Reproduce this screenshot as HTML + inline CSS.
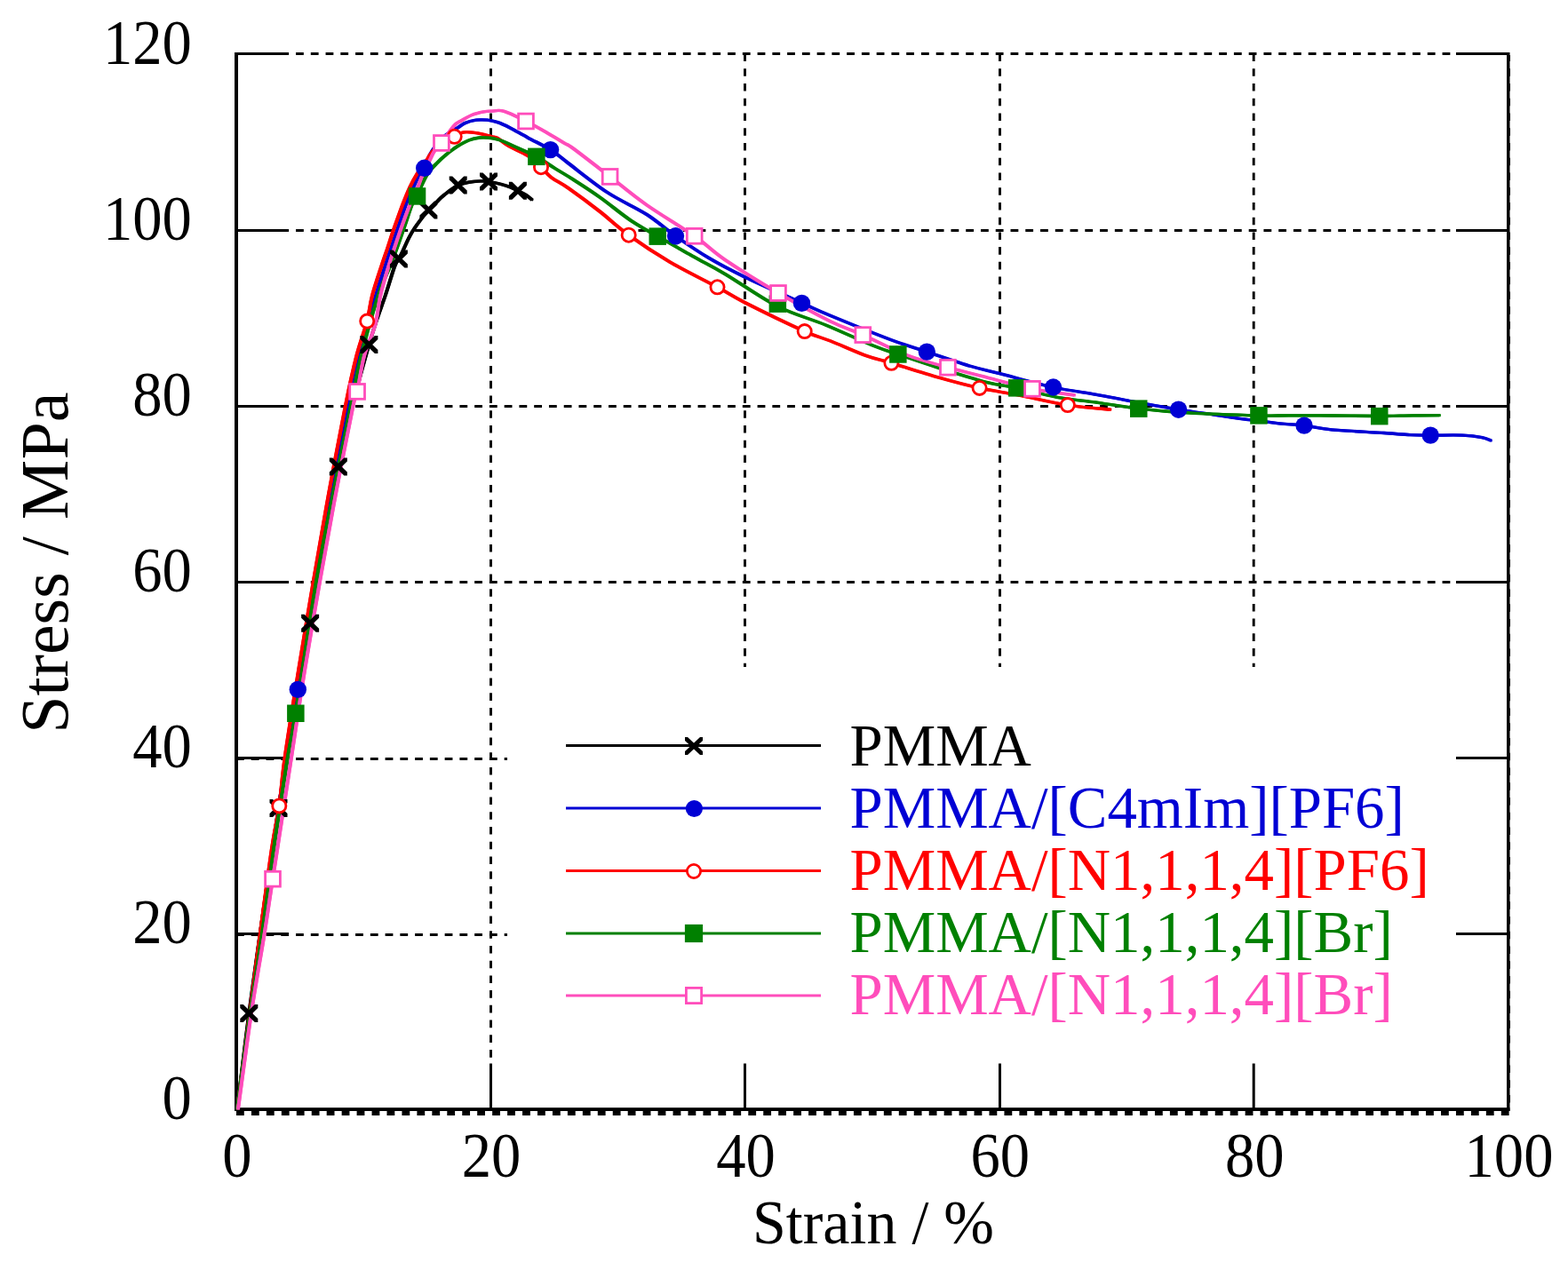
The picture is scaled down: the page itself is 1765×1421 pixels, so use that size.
<!DOCTYPE html><html><head><meta charset="utf-8"><title>Stress-strain curves</title><style>html,body{margin:0;padding:0;background:#fff;}svg{display:block;}text{font-family:"Liberation Serif","Times New Roman",serif;}</style></head><body>
<svg width="1765" height="1421" viewBox="0 0 1765 1421">
<rect width="1765" height="1421" fill="#fff"/>
<line x1="266.0" y1="60.5" x2="1632.5" y2="60.5" stroke="#000" stroke-width="3" stroke-dasharray="8.8 7.96" fill="none"/>
<line x1="266.0" y1="259.5" x2="1632.5" y2="259.5" stroke="#000" stroke-width="3" stroke-dasharray="8.8 7.96" fill="none"/>
<line x1="266.0" y1="457.5" x2="1632.5" y2="457.5" stroke="#000" stroke-width="3" stroke-dasharray="8.8 7.96" fill="none"/>
<line x1="266.0" y1="655.5" x2="1632.5" y2="655.5" stroke="#000" stroke-width="3" stroke-dasharray="8.8 7.96" fill="none"/>
<line x1="266.0" y1="854.5" x2="571.0" y2="854.5" stroke="#000" stroke-width="3" stroke-dasharray="8.8 7.96" fill="none"/>
<line x1="266.0" y1="1052.5" x2="571.0" y2="1052.5" stroke="#000" stroke-width="3" stroke-dasharray="8.8 7.96" fill="none"/>
<line x1="552.5" y1="60.5" x2="552.5" y2="1192.0" stroke="#000" stroke-width="2.9" stroke-dasharray="8.6 8.14" fill="none"/>
<line x1="838.5" y1="60.5" x2="838.5" y2="751.0" stroke="#000" stroke-width="2.9" stroke-dasharray="8.6 8.14" fill="none"/>
<line x1="1125.5" y1="60.5" x2="1125.5" y2="751.0" stroke="#000" stroke-width="2.9" stroke-dasharray="8.6 8.14" fill="none"/>
<line x1="1411.2" y1="60.5" x2="1411.2" y2="751.0" stroke="#000" stroke-width="2.9" stroke-dasharray="8.6 8.14" fill="none"/>
<line x1="264" y1="60.5" x2="325" y2="60.5" stroke="#000" stroke-width="3"/>
<line x1="1639" y1="60.5" x2="1698" y2="60.5" stroke="#000" stroke-width="3"/>
<line x1="264" y1="259.5" x2="325" y2="259.5" stroke="#000" stroke-width="3"/>
<line x1="1639" y1="259.5" x2="1698" y2="259.5" stroke="#000" stroke-width="3"/>
<line x1="264" y1="457.5" x2="325" y2="457.5" stroke="#000" stroke-width="3"/>
<line x1="1639" y1="457.5" x2="1698" y2="457.5" stroke="#000" stroke-width="3"/>
<line x1="264" y1="655.5" x2="325" y2="655.5" stroke="#000" stroke-width="3"/>
<line x1="1639" y1="655.5" x2="1698" y2="655.5" stroke="#000" stroke-width="3"/>
<line x1="264" y1="853.5" x2="325" y2="853.5" stroke="#000" stroke-width="3"/>
<line x1="1639" y1="853.5" x2="1698" y2="853.5" stroke="#000" stroke-width="3"/>
<line x1="264" y1="1051.5" x2="325" y2="1051.5" stroke="#000" stroke-width="3"/>
<line x1="1639" y1="1051.5" x2="1698" y2="1051.5" stroke="#000" stroke-width="3"/>
<line x1="552.5" y1="1197.5" x2="552.5" y2="1248" stroke="#000" stroke-width="3"/>
<line x1="838.5" y1="1197.5" x2="838.5" y2="1248" stroke="#000" stroke-width="3"/>
<line x1="1125.5" y1="1197.5" x2="1125.5" y2="1248" stroke="#000" stroke-width="3"/>
<line x1="1411.2" y1="1197.5" x2="1411.2" y2="1248" stroke="#000" stroke-width="3"/>
<rect x="264" y="59" width="4" height="1192" fill="#000"/>
<rect x="1696" y="59" width="3.5" height="1192" fill="#000"/>
<rect x="264" y="1247.2" width="1435.5" height="3.8" fill="#000"/>
<line x1="266" y1="1253.4" x2="1699" y2="1253.4" stroke="#000" stroke-width="5.2" stroke-dasharray="8.8 8.15"/>
<line x1="1699.2" y1="62" x2="1699.2" y2="1250" stroke="#000" stroke-width="1.6" stroke-dasharray="8.4 8.35" stroke-dashoffset="1.5"/>
<defs>
<path id="c0" d="M267.0,1249.0 C269.2,1231.0 275.4,1178.3 280.3,1141.0 C285.2,1103.7 291.0,1063.5 296.5,1025.0 C302.0,986.5 307.8,946.7 313.5,910.0 C319.2,873.3 325.1,839.7 331.0,805.0 C336.9,770.3 343.5,734.3 349.1,701.8 C354.7,669.3 359.2,639.4 364.5,610.0 C369.8,580.6 375.2,551.7 380.8,525.4 C386.4,499.1 392.2,474.9 398.0,452.0 C403.8,429.1 411.0,403.3 415.4,388.0 C419.8,372.7 421.1,369.3 424.1,360.2 C427.1,351.1 430.1,343.5 433.5,333.5 C436.9,323.5 441.6,307.0 444.2,300.0 C446.8,293.0 447.5,294.0 448.9,291.4 C450.3,288.8 450.5,288.6 452.5,284.5 C454.5,280.4 458.2,271.7 460.7,267.0 C463.1,262.3 464.6,259.9 467.2,256.1 C469.8,252.3 473.5,247.4 476.0,244.1 C478.5,240.8 479.9,239.2 482.4,236.5 C484.9,233.8 488.3,230.6 491.2,227.8 C494.1,225.0 495.9,222.7 500.0,219.5 C504.1,216.3 510.3,211.1 515.7,208.6 C521.2,206.1 527.0,205.2 532.7,204.5 C538.4,203.8 543.8,203.6 550.0,204.4 C556.2,205.2 564.2,207.5 569.7,209.2 C575.2,210.9 579.2,213.0 582.9,214.7 C586.6,216.4 589.3,217.7 592.0,219.5 C594.7,221.3 598.0,224.3 599.2,225.3"/>
<path id="c1" d="M267.0,1249.0 C269.3,1231.7 276.5,1177.9 281.0,1145.0 C285.5,1112.1 289.5,1084.2 294.0,1051.7 C298.5,1019.2 303.3,983.0 308.0,950.0 C312.7,917.0 317.4,882.6 322.0,853.7 C326.6,824.8 329.8,809.5 335.3,776.4 C340.8,743.3 348.7,691.7 355.0,655.0 C361.3,618.3 366.8,588.9 373.0,556.0 C379.2,523.1 386.7,483.5 392.0,457.6 C397.3,431.7 399.6,421.1 404.7,400.4 C409.8,379.7 417.9,350.4 422.8,333.5 C427.7,316.6 429.8,311.2 433.8,298.8 C437.8,286.4 442.9,271.5 447.0,259.4 C451.1,247.3 455.5,234.0 458.5,226.0 C461.5,218.0 463.0,215.8 465.0,211.5 C467.0,207.2 468.4,203.7 470.5,200.0 C472.6,196.3 475.5,193.5 477.7,189.3 C479.9,185.1 480.7,180.1 483.6,174.9 C486.5,169.7 491.4,162.2 495.0,158.0 C498.6,153.8 501.7,152.3 505.0,150.0 C508.3,147.7 511.8,146.0 514.9,144.1 C517.9,142.2 519.8,140.1 523.3,138.6 C526.8,137.1 531.8,135.8 536.0,135.2 C540.2,134.6 544.7,134.8 548.7,135.2 C552.7,135.6 555.8,136.3 560.0,137.7 C564.2,139.1 568.0,140.8 573.7,143.7 C579.4,146.6 586.4,150.8 594.0,154.9 C601.6,159.1 611.9,163.8 619.6,168.6 C627.3,173.4 629.3,175.9 640.0,184.0 C650.7,192.1 669.3,207.3 684.0,216.9 C698.7,226.5 715.2,233.3 728.0,241.5 C740.8,249.7 748.8,257.6 760.5,265.8 C772.2,274.0 785.4,283.1 798.4,290.8 C811.4,298.5 821.0,303.5 838.3,311.9 C855.6,320.2 886.1,333.6 902.2,340.9 C918.3,348.2 918.3,348.6 935.0,355.5 C951.7,362.4 984.5,375.7 1002.5,382.5 C1020.5,389.3 1028.2,391.1 1043.3,396.1 C1058.4,401.1 1079.5,408.4 1093.2,412.5 C1106.9,416.6 1109.9,416.7 1125.3,420.6 C1140.7,424.5 1167.4,432.1 1185.6,436.0 C1203.8,439.9 1219.7,441.7 1234.2,444.3 C1248.7,446.9 1257.1,448.9 1272.5,451.7 C1287.9,454.5 1310.9,458.6 1326.6,461.2 C1342.3,463.8 1354.0,465.2 1366.8,467.1 C1379.6,469.0 1391.4,470.7 1403.6,472.3 C1415.8,473.9 1429.3,475.7 1440.0,476.8 C1450.7,477.9 1458.2,477.9 1468.0,479.1 C1477.8,480.3 1483.9,482.4 1498.9,483.8 C1513.9,485.2 1543.2,486.5 1557.9,487.5 C1572.6,488.5 1578.6,489.3 1587.3,489.7 C1596.0,490.1 1600.4,490.0 1610.2,490.1 C1620.0,490.2 1636.5,489.7 1646.2,490.1 C1655.9,490.5 1662.9,491.6 1668.3,492.6 C1673.7,493.6 1677.0,495.7 1678.7,496.3"/>
<path id="c2" d="M267.0,1249.0 C269.2,1232.5 275.7,1182.9 280.0,1150.0 C284.3,1117.1 288.5,1084.2 292.8,1051.7 C297.1,1019.2 302.4,979.0 306.0,955.0 C309.6,931.0 311.9,924.3 314.3,907.4 C316.7,890.5 316.9,879.1 320.5,853.7 C324.1,828.3 330.6,788.1 336.0,755.0 C341.4,721.9 347.0,688.2 352.7,655.0 C358.4,621.8 364.0,588.9 370.0,556.0 C376.0,523.1 383.5,483.5 388.7,457.6 C393.9,431.7 397.3,416.4 401.4,400.4 C405.5,384.4 410.3,372.8 413.2,361.6 C416.1,350.5 416.1,344.0 418.8,333.5 C421.5,323.0 426.7,307.7 429.6,298.8 C432.5,289.9 433.8,286.6 436.0,280.0 C438.2,273.4 439.9,267.6 442.8,259.4 C445.7,251.2 450.0,238.9 453.1,230.7 C456.2,222.5 458.8,216.2 461.5,210.4 C464.2,204.6 466.0,201.2 469.3,196.0 C472.6,190.8 478.3,183.2 481.1,179.1 C483.9,175.0 483.1,175.2 486.2,171.5 C489.3,167.8 495.8,159.9 500.0,157.0 C504.2,154.1 508.2,155.1 511.7,153.8 C515.2,152.5 517.4,149.9 520.8,149.1 C524.1,148.3 527.8,148.7 531.8,149.1 C535.8,149.5 540.9,150.5 544.5,151.3 C548.1,152.1 550.7,153.2 553.3,153.9 C555.9,154.6 556.6,153.6 560.0,155.5 C563.4,157.4 568.0,161.8 573.7,165.1 C579.4,168.4 588.1,171.5 594.0,175.3 C599.9,179.2 604.6,184.1 609.0,188.2 C613.4,192.3 615.4,195.8 620.6,199.8 C625.8,203.8 630.9,205.6 640.0,212.0 C649.1,218.4 663.7,229.2 675.0,238.0 C686.3,246.8 694.5,255.2 707.7,264.7 C720.9,274.2 737.8,285.4 754.4,295.2 C771.0,305.0 793.4,315.7 807.5,323.3 C821.6,330.9 822.4,332.6 838.8,340.9 C855.2,349.2 889.7,365.9 905.7,373.1 C921.7,380.3 923.4,379.4 935.0,384.0 C946.6,388.6 963.9,396.6 975.3,400.7 C986.7,404.8 989.8,404.7 1003.4,408.8 C1017.0,412.9 1040.4,420.4 1056.9,425.1 C1073.4,429.8 1087.5,433.6 1102.6,436.9 C1117.7,440.2 1131.0,441.9 1147.5,445.1 C1164.0,448.3 1184.6,453.4 1201.8,456.1 C1219.0,458.8 1242.3,460.4 1250.4,461.2"/>
<path id="c3" d="M267.0,1249.0 C269.3,1231.7 276.3,1177.9 281.0,1145.0 C285.7,1112.1 290.3,1084.2 295.0,1051.7 C299.7,1019.2 304.2,983.0 309.0,950.0 C313.8,917.0 319.7,878.2 323.7,853.7 C327.7,829.2 327.4,836.3 332.8,803.2 C338.2,770.1 349.0,696.2 356.0,655.0 C363.0,613.8 368.6,588.9 375.0,556.0 C381.4,523.1 389.4,483.5 394.7,457.6 C400.0,431.7 401.6,421.1 406.7,400.4 C411.8,379.7 419.8,351.1 425.5,333.5 C431.2,315.9 436.3,307.4 441.0,295.0 C445.7,282.6 450.1,270.1 453.8,259.4 C457.6,248.7 460.9,237.4 463.5,231.0 C466.1,224.6 467.8,224.3 469.5,221.0 C471.2,217.7 471.6,215.4 473.5,211.2 C475.4,207.0 478.1,200.5 481.1,196.0 C484.1,191.5 487.8,187.8 491.3,184.2 C494.8,180.5 498.3,177.3 502.2,174.1 C506.1,170.9 510.7,167.5 514.9,164.8 C519.1,162.1 523.4,159.6 527.6,158.0 C531.8,156.4 536.0,155.4 540.2,155.0 C544.4,154.6 549.0,155.0 552.9,155.5 C556.8,156.0 558.3,156.1 563.5,158.0 C568.7,159.9 577.2,164.0 583.9,167.1 C590.6,170.2 597.1,172.6 603.9,176.3 C610.7,180.1 617.9,185.3 624.7,189.6 C631.6,193.9 636.6,196.6 645.0,202.0 C653.4,207.4 664.3,214.3 675.2,222.1 C686.1,229.8 699.5,241.2 710.4,248.5 C721.2,255.8 728.6,259.4 740.3,266.1 C752.0,272.9 768.2,281.9 780.8,289.0 C793.4,296.1 800.2,299.1 816.0,308.4 C831.8,317.7 856.4,335.4 875.4,345.0 C894.4,354.6 911.8,358.7 930.0,366.2 C948.2,373.7 970.9,384.4 984.4,389.8 C997.9,395.2 998.6,394.8 1010.7,398.9 C1022.8,403.0 1040.1,409.0 1056.9,414.3 C1073.7,419.6 1096.7,426.8 1111.3,430.6 C1125.9,434.4 1131.7,434.1 1144.8,436.9 C1157.9,439.7 1175.1,444.6 1190.0,447.3 C1204.9,450.0 1218.9,451.0 1234.2,453.1 C1249.5,455.2 1264.6,458.1 1281.8,460.1 C1299.0,462.1 1314.8,463.6 1337.3,464.9 C1359.8,466.2 1398.1,467.4 1416.9,467.9 C1435.7,468.4 1436.2,467.9 1450.0,467.9 C1463.8,467.9 1482.9,467.9 1500.0,468.0 C1517.1,468.1 1537.7,468.5 1552.7,468.5 C1567.7,468.5 1578.6,467.9 1590.0,467.8 C1601.4,467.7 1615.8,467.6 1620.9,467.6"/>
<path id="c4" d="M268.0,1249.0 C270.5,1230.8 278.1,1172.9 283.0,1140.0 C287.9,1107.1 293.6,1076.8 297.6,1051.7 C301.6,1026.7 301.9,1022.7 307.0,989.7 C312.1,956.7 321.9,892.8 327.9,853.7 C333.9,814.6 337.6,788.1 343.0,755.0 C348.4,721.9 354.2,688.2 360.0,655.0 C365.8,621.8 371.8,588.9 378.0,556.0 C384.2,523.1 393.4,476.8 397.4,457.6 C401.4,438.4 400.0,450.4 402.1,440.9 C404.2,431.4 406.7,412.9 410.1,400.4 C413.5,387.9 419.3,377.0 422.3,365.9 C425.3,354.8 425.5,344.7 428.1,333.5 C430.7,322.3 433.9,311.2 437.7,298.8 C441.5,286.4 446.8,270.6 450.7,259.4 C454.6,248.1 458.4,237.9 461.0,231.3 C463.6,224.7 464.3,223.7 466.0,220.0 C467.7,216.3 469.3,213.0 471.0,209.0 C472.7,205.0 473.8,200.8 476.0,196.0 C478.2,191.2 481.9,184.2 484.0,180.0 C486.1,175.8 486.6,173.9 488.7,170.7 C490.8,167.5 493.2,165.8 496.9,161.0 C500.6,156.2 507.0,146.2 510.7,142.0 C514.4,137.8 515.6,138.1 519.1,136.0 C522.6,133.9 527.6,131.0 531.8,129.3 C536.0,127.6 541.0,126.6 544.5,125.9 C548.0,125.2 549.0,125.2 552.9,125.1 C556.8,125.0 561.1,123.4 567.6,125.3 C574.1,127.2 584.2,132.6 592.0,136.5 C599.8,140.4 607.4,144.7 614.5,148.8 C621.6,152.9 629.8,158.0 634.9,161.0 C640.0,164.0 636.4,160.7 645.0,167.0 C653.6,173.3 672.8,188.2 686.6,198.9 C700.4,209.6 712.1,219.8 728.0,230.9 C743.9,242.1 767.0,255.5 781.7,265.8 C796.4,276.1 800.4,281.9 816.0,292.5 C831.6,303.1 855.6,317.9 875.4,329.5 C895.2,341.1 919.0,354.1 935.0,362.0 C951.0,369.9 957.0,370.8 971.3,377.1 C985.6,383.4 1004.7,393.7 1020.6,399.8 C1036.5,405.9 1051.8,409.5 1066.9,413.7 C1082.0,417.9 1095.5,421.1 1111.3,425.1 C1127.1,429.1 1145.6,434.5 1162.0,437.8 C1178.4,441.1 1201.9,443.8 1209.9,445.0"/>
</defs>
<g stroke="#000000" stroke-width="2.3" fill="none" stroke-linejoin="round" stroke-linecap="butt">
<use href="#c0" x="-0.80" y="-0.50"/>
<use href="#c0" x="0.80" y="-0.50"/>
<use href="#c0" x="-0.80" y="0.50"/>
<use href="#c0" x="0.80" y="0.50"/>
</g>
<g stroke="#0000D4" stroke-width="2.3" fill="none" stroke-linejoin="round" stroke-linecap="butt">
<use href="#c1" x="-0.80" y="-0.50"/>
<use href="#c1" x="0.80" y="-0.50"/>
<use href="#c1" x="-0.80" y="0.50"/>
<use href="#c1" x="0.80" y="0.50"/>
</g>
<g stroke="#FF0000" stroke-width="2.3" fill="none" stroke-linejoin="round" stroke-linecap="butt">
<use href="#c2" x="-0.80" y="-0.50"/>
<use href="#c2" x="0.80" y="-0.50"/>
<use href="#c2" x="-0.80" y="0.50"/>
<use href="#c2" x="0.80" y="0.50"/>
</g>
<g stroke="#008000" stroke-width="2.3" fill="none" stroke-linejoin="round" stroke-linecap="butt">
<use href="#c3" x="-0.80" y="-0.50"/>
<use href="#c3" x="0.80" y="-0.50"/>
<use href="#c3" x="-0.80" y="0.50"/>
<use href="#c3" x="0.80" y="0.50"/>
</g>
<g stroke="#FF4DBB" stroke-width="2.3" fill="none" stroke-linejoin="round" stroke-linecap="butt">
<use href="#c4" x="-0.80" y="-0.50"/>
<use href="#c4" x="0.80" y="-0.50"/>
<use href="#c4" x="-0.80" y="0.50"/>
<use href="#c4" x="0.80" y="0.50"/>
</g>
<polygon points="270.3,1131.0 273.8,1131.0 290.3,1147.0 290.3,1151.0 286.8,1151.0 270.3,1135.0" fill="#000000"/><polygon points="286.8,1131.0 290.3,1131.0 290.3,1135.0 273.8,1151.0 270.3,1151.0 270.3,1147.0" fill="#000000"/>
<polygon points="303.5,900.0 307.0,900.0 323.5,916.0 323.5,920.0 320.0,920.0 303.5,904.0" fill="#000000"/><polygon points="320.0,900.0 323.5,900.0 323.5,904.0 307.0,920.0 303.5,920.0 303.5,916.0" fill="#000000"/>
<polygon points="339.1,691.8 342.6,691.8 359.1,707.8 359.1,711.8 355.6,711.8 339.1,695.8" fill="#000000"/><polygon points="355.6,691.8 359.1,691.8 359.1,695.8 342.6,711.8 339.1,711.8 339.1,707.8" fill="#000000"/>
<polygon points="370.8,515.4 374.3,515.4 390.8,531.4 390.8,535.4 387.3,535.4 370.8,519.4" fill="#000000"/><polygon points="387.3,515.4 390.8,515.4 390.8,519.4 374.3,535.4 370.8,535.4 370.8,531.4" fill="#000000"/>
<polygon points="405.4,378.0 408.9,378.0 425.4,394.0 425.4,398.0 421.9,398.0 405.4,382.0" fill="#000000"/><polygon points="421.9,378.0 425.4,378.0 425.4,382.0 408.9,398.0 405.4,398.0 405.4,394.0" fill="#000000"/>
<polygon points="438.9,281.4 442.4,281.4 458.9,297.4 458.9,301.4 455.4,301.4 438.9,285.4" fill="#000000"/><polygon points="455.4,281.4 458.9,281.4 458.9,285.4 442.4,301.4 438.9,301.4 438.9,297.4" fill="#000000"/>
<polygon points="472.4,226.5 475.9,226.5 492.4,242.5 492.4,246.5 488.9,246.5 472.4,230.5" fill="#000000"/><polygon points="488.9,226.5 492.4,226.5 492.4,230.5 475.9,246.5 472.4,246.5 472.4,242.5" fill="#000000"/>
<polygon points="505.7,198.4 509.2,198.4 525.7,214.4 525.7,218.4 522.2,218.4 505.7,202.4" fill="#000000"/><polygon points="522.2,198.4 525.7,198.4 525.7,202.4 509.2,218.4 505.7,218.4 505.7,214.4" fill="#000000"/>
<polygon points="540.0,194.4 543.5,194.4 560.0,210.4 560.0,214.4 556.5,214.4 540.0,198.4" fill="#000000"/><polygon points="556.5,194.4 560.0,194.4 560.0,198.4 543.5,214.4 540.0,214.4 540.0,210.4" fill="#000000"/>
<polygon points="572.9,204.7 576.4,204.7 592.9,220.7 592.9,224.7 589.4,224.7 572.9,208.7" fill="#000000"/><polygon points="589.4,204.7 592.9,204.7 592.9,208.7 576.4,224.7 572.9,224.7 572.9,220.7" fill="#000000"/>
<circle cx="314.3" cy="907.4" r="7.6" fill="#fff" stroke="#FF0000" stroke-width="2.8"/>
<circle cx="413.2" cy="361.6" r="7.6" fill="#fff" stroke="#FF0000" stroke-width="2.8"/>
<circle cx="511.7" cy="153.8" r="7.6" fill="#fff" stroke="#FF0000" stroke-width="2.8"/>
<circle cx="609.0" cy="188.2" r="7.6" fill="#fff" stroke="#FF0000" stroke-width="2.8"/>
<circle cx="707.7" cy="264.7" r="7.6" fill="#fff" stroke="#FF0000" stroke-width="2.8"/>
<circle cx="807.5" cy="323.3" r="7.6" fill="#fff" stroke="#FF0000" stroke-width="2.8"/>
<circle cx="905.7" cy="373.1" r="7.6" fill="#fff" stroke="#FF0000" stroke-width="2.8"/>
<circle cx="1003.4" cy="408.8" r="7.6" fill="#fff" stroke="#FF0000" stroke-width="2.8"/>
<circle cx="1102.6" cy="436.9" r="7.6" fill="#fff" stroke="#FF0000" stroke-width="2.8"/>
<circle cx="1201.8" cy="456.1" r="7.6" fill="#fff" stroke="#FF0000" stroke-width="2.8"/>
<circle cx="335.3" cy="776.4" r="9.7" fill="#0000D4"/>
<circle cx="477.7" cy="189.3" r="9.7" fill="#0000D4"/>
<circle cx="619.6" cy="168.6" r="9.7" fill="#0000D4"/>
<circle cx="760.5" cy="265.8" r="9.7" fill="#0000D4"/>
<circle cx="902.5" cy="341.4" r="9.7" fill="#0000D4"/>
<circle cx="1043.3" cy="396.1" r="9.7" fill="#0000D4"/>
<circle cx="1185.6" cy="436.0" r="9.7" fill="#0000D4"/>
<circle cx="1326.6" cy="461.2" r="9.7" fill="#0000D4"/>
<circle cx="1468.0" cy="479.1" r="9.7" fill="#0000D4"/>
<circle cx="1610.2" cy="490.1" r="9.7" fill="#0000D4"/>
<rect x="323.1" y="793.5" width="19.5" height="19.5" fill="#008000"/>
<rect x="459.8" y="211.2" width="19.5" height="19.5" fill="#008000"/>
<rect x="594.1" y="166.6" width="19.5" height="19.5" fill="#008000"/>
<rect x="730.5" y="256.4" width="19.5" height="19.5" fill="#008000"/>
<rect x="865.6" y="332.4" width="19.5" height="19.5" fill="#008000"/>
<rect x="1001.1" y="389.2" width="19.5" height="19.5" fill="#008000"/>
<rect x="1135.0" y="427.1" width="19.5" height="19.5" fill="#008000"/>
<rect x="1272.0" y="450.4" width="19.5" height="19.5" fill="#008000"/>
<rect x="1407.2" y="458.1" width="19.5" height="19.5" fill="#008000"/>
<rect x="1543.0" y="458.9" width="19.5" height="19.5" fill="#008000"/>
<rect x="298.6" y="981.3" width="16.8" height="16.8" fill="#fff" stroke="#FF4DBB" stroke-width="2.8"/>
<rect x="393.7" y="432.5" width="16.8" height="16.8" fill="#fff" stroke="#FF4DBB" stroke-width="2.8"/>
<rect x="488.5" y="152.6" width="16.8" height="16.8" fill="#fff" stroke="#FF4DBB" stroke-width="2.8"/>
<rect x="583.6" y="128.1" width="16.8" height="16.8" fill="#fff" stroke="#FF4DBB" stroke-width="2.8"/>
<rect x="678.2" y="190.5" width="16.8" height="16.8" fill="#fff" stroke="#FF4DBB" stroke-width="2.8"/>
<rect x="773.3" y="257.4" width="16.8" height="16.8" fill="#fff" stroke="#FF4DBB" stroke-width="2.8"/>
<rect x="867.6" y="321.6" width="16.8" height="16.8" fill="#fff" stroke="#FF4DBB" stroke-width="2.8"/>
<rect x="962.9" y="368.7" width="16.8" height="16.8" fill="#fff" stroke="#FF4DBB" stroke-width="2.8"/>
<rect x="1058.5" y="405.3" width="16.8" height="16.8" fill="#fff" stroke="#FF4DBB" stroke-width="2.8"/>
<rect x="1153.6" y="429.4" width="16.8" height="16.8" fill="#fff" stroke="#FF4DBB" stroke-width="2.8"/>
<line x1="637" y1="839.4" x2="924" y2="839.4" stroke="#000000" stroke-width="3"/>
<polygon points="771.0,829.9 774.0,829.9 791.0,845.9 791.0,849.9 788.0,849.9 771.0,833.9" fill="#000000"/><polygon points="788.0,829.9 791.0,829.9 791.0,833.9 774.0,849.9 771.0,849.9 771.0,845.9" fill="#000000"/>
<text x="956.5" y="0.0" font-size="66.9" fill="#000000" transform="translate(0 862.2) scale(1 1.01)">PMMA</text>
<line x1="637" y1="910.0" x2="924" y2="910.0" stroke="#0000D4" stroke-width="3"/>
<circle cx="781.4" cy="910.5" r="9.6" fill="#0000D4"/>
<text x="956.5" y="0.0" font-size="66.9" fill="#0000D4" transform="translate(0 931.8) scale(1 1.01)">PMMA/[C4mIm][PF6]</text>
<line x1="637" y1="980.5" x2="924" y2="980.5" stroke="#FF0000" stroke-width="3"/>
<circle cx="781.0" cy="981.0" r="7.6" fill="#fff" stroke="#FF0000" stroke-width="2.8"/>
<text x="956.5" y="0.0" font-size="66.9" fill="#FF0000" transform="translate(0 1001.7) scale(1 1.01)">PMMA/[N1,1,1,4][PF6]</text>
<line x1="637" y1="1051.0" x2="924" y2="1051.0" stroke="#008000" stroke-width="3"/>
<rect x="770.9" y="1040.9" width="20.2" height="20.2" fill="#008000"/>
<text x="956.5" y="0.0" font-size="66.9" fill="#008000" transform="translate(0 1071.6) scale(1 1.01)">PMMA/[N1,1,1,4][Br]</text>
<line x1="637" y1="1121.0" x2="924" y2="1121.0" stroke="#FF4DBB" stroke-width="3"/>
<rect x="772.4" y="1112.4" width="17.2" height="17.2" fill="#fff" stroke="#FF4DBB" stroke-width="2.8"/>
<text x="956.5" y="0.0" font-size="66.9" fill="#FF4DBB" transform="translate(0 1141.6) scale(1 1.01)">PMMA/[N1,1,1,4][Br]</text>
<text x="215.8" y="0" font-size="66.6" text-anchor="end" transform="translate(0 71.7) scale(1 1.068)">120</text>
<text x="215.8" y="0" font-size="66.6" text-anchor="end" transform="translate(0 269.8) scale(1 1.068)">100</text>
<text x="215.8" y="0" font-size="66.6" text-anchor="end" transform="translate(0 467.9) scale(1 1.068)">80</text>
<text x="215.8" y="0" font-size="66.6" text-anchor="end" transform="translate(0 666.0) scale(1 1.068)">60</text>
<text x="215.8" y="0" font-size="66.6" text-anchor="end" transform="translate(0 864.0) scale(1 1.068)">40</text>
<text x="215.8" y="0" font-size="66.6" text-anchor="end" transform="translate(0 1062.1) scale(1 1.068)">20</text>
<text x="215.8" y="0" font-size="66.6" text-anchor="end" transform="translate(0 1260.2) scale(1 1.068)">0</text>
<text x="266.8" y="0" font-size="66.6" text-anchor="middle" transform="translate(0 1325.2) scale(1 1.068)">0</text>
<text x="553.1" y="0" font-size="66.6" text-anchor="middle" transform="translate(0 1325.2) scale(1 1.068)">20</text>
<text x="839.5" y="0" font-size="66.6" text-anchor="middle" transform="translate(0 1325.2) scale(1 1.068)">40</text>
<text x="1125.8" y="0" font-size="66.6" text-anchor="middle" transform="translate(0 1325.2) scale(1 1.068)">60</text>
<text x="1412.2" y="0" font-size="66.6" text-anchor="middle" transform="translate(0 1325.2) scale(1 1.068)">80</text>
<text x="1698.5" y="0" font-size="66.6" text-anchor="middle" transform="translate(0 1325.2) scale(1 1.068)">100</text>
<text x="983" y="0" font-size="68" text-anchor="middle" transform="translate(0 1399.6) scale(1 1.03)">Strain / %</text>
<text x="0" y="0" font-size="76" text-anchor="middle" transform="translate(75.6 633.7) rotate(-90) scale(1 0.99)">Stress / MPa</text>
</svg></body></html>
